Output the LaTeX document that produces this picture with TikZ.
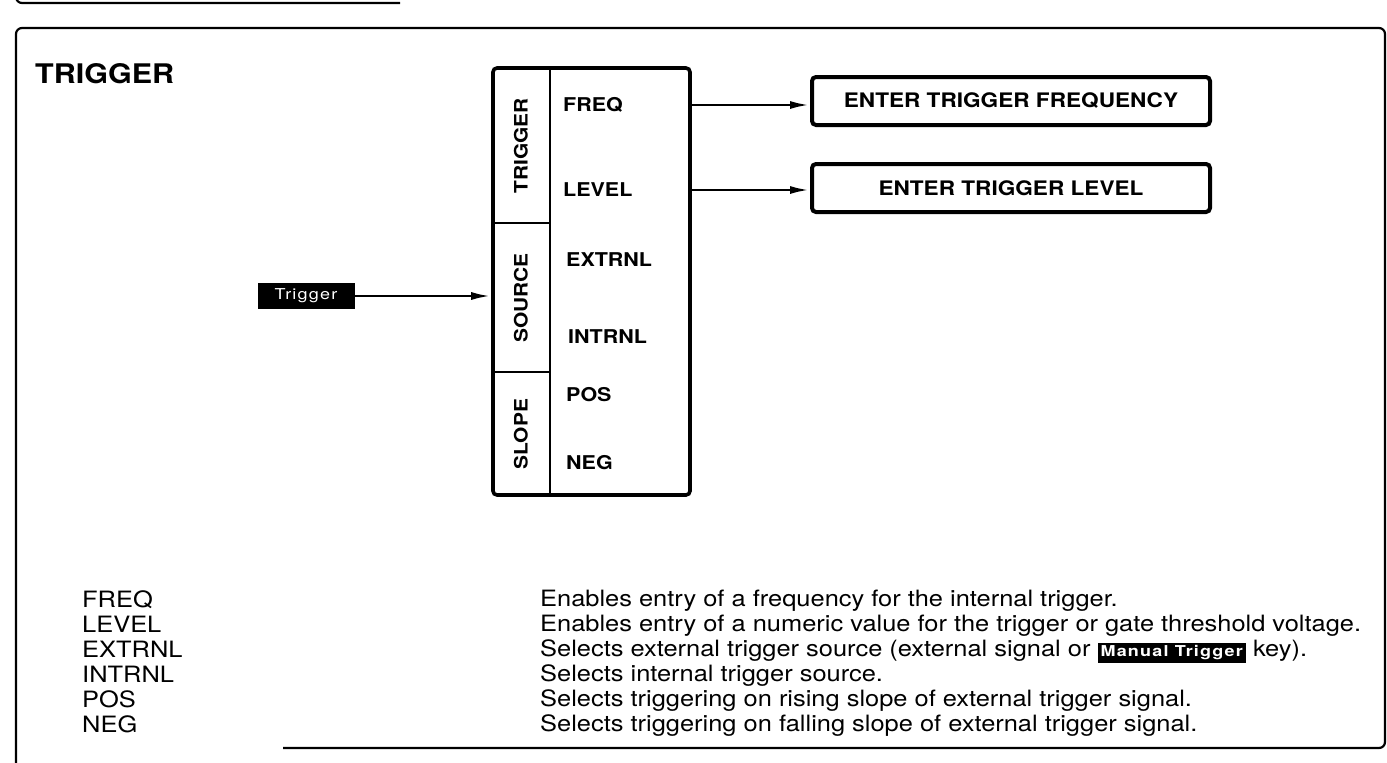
\documentclass[tikz,border=0pt]{standalone}
\usepackage{fontspec}
\setmainfont{TeX Gyre Heros}
\newfontfamily\widesans{TeX Gyre Heros}[FakeStretch=1.13]
\newfontfamily\keysans{TeX Gyre Heros}[FakeStretch=1.2, LetterSpace=8]
\usetikzlibrary{arrows.meta,positioning}

\newcommand{\keycap}[1]{{\setlength{\fboxsep}{3pt}\colorbox{black}{\textcolor{white}{\keysans\bfseries\fontsize{15}{17}\selectfont #1}}}}

\begin{document}
\begin{tikzpicture}[
    x=1pt, y=-1pt,
    frameline/.style={line width=2.2pt, rounded corners=6pt},
    menubox/.style={draw, line width=3.6pt, rounded corners=4pt, inner sep=0pt},
    divider/.style={line width=2.6pt},
    grouplabel/.style={rotate=90, inner sep=0pt, font=\widesans\fontsize{18.5}{22}\selectfont\bfseries},
    itemlabel/.style={anchor=west, inner sep=0pt, font=\widesans\fontsize{19}{22}\selectfont\bfseries},
    entrybox/.style={
      draw, line width=4pt, rounded corners=4pt, inner sep=0pt,
      minimum width=398pt, minimum height=48pt,
      font=\widesans\fontsize{20}{24}\selectfont\bfseries
    },
    hardkey/.style={fill=black, text=white, inner sep=0pt, minimum width=97pt, minimum height=26pt,
      font=\keysans\fontsize{15}{18}\selectfont},
    menuarr/.style={-{Latex[length=20pt,width=8pt]}, line width=2.8pt},
    desctext/.style={anchor=north west, align=left, inner sep=0pt, font=\widesans\fontsize{22.5}{25}\selectfont}
  ]
    \useasboundingbox (0,0) rectangle (1387,763);

    % panel frames
    \draw[frameline] (16,-20) |- (400,3);
    \draw[frameline] (16,780) |- (1385,28) |- (283,748);

    \node[anchor=west, inner sep=0pt, font=\widesans\fontsize{27}{30}\selectfont\bfseries] (title) at (35,74) {TRIGGER};

    % menu
    \node[menubox, minimum width=197pt, minimum height=427pt] (menu) at (591.5,281.5) {};
    \draw[divider] (550,68) -- (550,495);
    \draw[divider] (493,223) -- (550,223);
    \draw[divider] (493,372) -- (550,372);

    \node[grouplabel] (gtrig) at (521,146) {TRIGGER};
    \node[grouplabel] (gsrc) at (521,298) {SOURCE};
    \node[grouplabel] (gslope) at (521,434) {SLOPE};

    \node[itemlabel] (freq) at (563,105) {FREQ};
    \node[itemlabel] (level) at (563,190) {LEVEL};
    \node[itemlabel] (extrnl) at (566,260) {EXTRNL};
    \node[itemlabel] (intrnl) at (568,337) {INTRNL};
    \node[itemlabel] (pos) at (566,395) {POS};
    \node[itemlabel] (neg) at (566,463) {NEG};

    \node[entrybox] (enfreq) at (1011,101) {ENTER TRIGGER FREQUENCY};
    \node[entrybox] (enlevel) at (1011,188) {ENTER TRIGGER LEVEL};

    \node[hardkey] (trigkey) at (306,296) {Trigger};

    % arrows
    \draw[menuarr] (trigkey.east) -- (trigkey.east -| menu.west);
    \draw[menuarr] (menu.east |- freq) -- (enfreq.west |- freq);
    \draw[menuarr] (menu.east |- level) -- (enlevel.west |- level);

    % key descriptions
    \node[desctext] (keys) at (82,590) {FREQ\\LEVEL\\EXTRNL\\INTRNL\\POS\\NEG};
    \node[desctext] (descs) at (540,590) {%
      Enables entry of a frequency for the internal trigger.\\
      Enables entry of a numeric value for the trigger or gate threshold voltage.\\
      Selects external trigger source (external signal or \keycap{Manual Trigger} key).\\
      Selects internal trigger source.\\
      Selects triggering on rising slope of external trigger signal.\\
      Selects triggering on falling slope of external trigger signal.};

  \end{tikzpicture}
\end{document}
